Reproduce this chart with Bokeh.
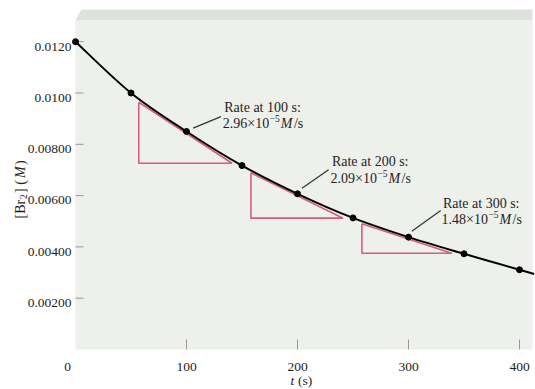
import math
import numpy as np
from bokeh.plotting import figure
from bokeh.models import Label, Range1d
from bokeh.embed import file_html
from bokeh.resources import INLINE

# ---------------- data ----------------
time_s = [0, 50, 100, 150, 200, 250, 300, 350, 400]
br2_M = [0.0120, 0.0100, 0.00850, 0.00717, 0.00607, 0.00513, 0.00438, 0.00373, 0.00311]

rate_times = [100, 200, 300]
rate_values = ["2.96", "2.09", "1.48"]

tri_left = [57, 158, 258]
tri_right = [141, 241, 339]
tri_top = [0.00964, 0.00689, 0.00490]
tri_bottom = [0.00726, 0.00512, 0.00375]

note_x = [134, 231, 331]
note_y = [0.00945, 0.00731, 0.00570]

lead_x0 = [106, 204, 303]
lead_y0 = [0.00863, 0.00629, 0.00461]
lead_x1 = [131, 228, 329]
lead_y1 = [0.00908, 0.00701, 0.00542]

x_ticks = [0, 100, 200, 300, 400]
x_tick_labels = ["0", "100", "200", "300", "400"]
y_ticks = [0.002, 0.004, 0.006, 0.008, 0.010, 0.012]
y_tick_labels = ["0.00200", "0.00400", "0.00600", "0.00800", "0.0100", "0.0120"]

# ---------------- layout (pixels) ----------------
W, H = 535, 389
X0_PX, Y0_PX = 75, 349          # where t = 0 and [Br2] = 0 fall
PX_PER_S = 1.11
PX_PER_M = 25650.0
PANEL_RIGHT_PX, PANEL_TOP_PX, BAND_TOP_PX = 532, 20, 9

X_START = -X0_PX / PX_PER_S
X_END = (W - X0_PX) / PX_PER_S
Y_START = (Y0_PX - H) / PX_PER_M
Y_END = Y0_PX / PX_PER_M
PANEL_RIGHT = (PANEL_RIGHT_PX - X0_PX) / PX_PER_S
Y_BAND = (Y0_PX - PANEL_TOP_PX) / PX_PER_M
Y_BAND_TOP = (Y0_PX - BAND_TOP_PX) / PX_PER_M
SLANT = 6 / PX_PER_S

PANEL = "#eef0eb"
BAND = "#dde3dc"
TEXT = "#1e1e1e"
PINK = "#d45f7c"
TICK = "#9a9a9a"
FONT = "Liberation Serif"

p = figure(width=W, height=H, x_range=Range1d(X_START, X_END), y_range=Range1d(Y_START, Y_END),
           output_backend="svg", toolbar_location=None,
           x_axis_location=None, y_axis_location=None,
           min_border=0, min_border_left=0, min_border_right=0,
           min_border_top=0, min_border_bottom=0,
           background_fill_color="white", border_fill_color="white")
p.outline_line_color = None
p.grid.visible = False

# panel and top "3D" band
p.quad(left=0, right=PANEL_RIGHT, bottom=0, top=Y_BAND, fill_color=PANEL, line_color=None)
p.patch([0, SLANT, PANEL_RIGHT, PANEL_RIGHT], [Y_BAND, Y_BAND_TOP, Y_BAND_TOP, Y_BAND],
        fill_color=BAND, line_color=None)

# ticks (drawn inward)
p.segment(x0=[0] * len(y_ticks), y0=y_ticks, x1=[8 / PX_PER_S] * len(y_ticks), y1=y_ticks,
          line_color=TICK, line_width=1)
p.segment(x0=x_ticks[1:], y0=[0] * (len(x_ticks) - 1), x1=x_ticks[1:],
          y1=[10 / PX_PER_M] * (len(x_ticks) - 1), line_color=TICK, line_width=1)

# tangent triangles
for l, r, t, b in zip(tri_left, tri_right, tri_top, tri_bottom):
    p.line([l, l, r, l], [t, b, b, t], line_color=PINK, line_width=1.6)

# smooth curve (Catmull-Rom -> cubic Bezier through the data points)
xs = np.array(time_s, dtype=float)
ys = np.array(br2_M, dtype=float)
n = len(xs)
x0s, y0s, x1s, y1s, cx0, cy0, cx1, cy1 = [], [], [], [], [], [], [], []
for i in range(n - 1):
    im1 = max(i - 1, 0)
    ip2 = min(i + 2, n - 1)
    x0s.append(xs[i]); y0s.append(ys[i]); x1s.append(xs[i + 1]); y1s.append(ys[i + 1])
    cx0.append(xs[i] + (xs[i + 1] - xs[im1]) / 6); cy0.append(ys[i] + (ys[i + 1] - ys[im1]) / 6)
    cx1.append(xs[i + 1] - (xs[ip2] - xs[i]) / 6); cy1.append(ys[i + 1] - (ys[ip2] - ys[i]) / 6)
p.bezier(x0=x0s, y0=y0s, x1=x1s, y1=y1s, cx0=cx0, cy0=cy0, cx1=cx1, cy1=cy1,
         line_color="black", line_width=2)
slope_end = (ys[-1] - ys[-2]) / (xs[-1] - xs[-2])
x_tail = PANEL_RIGHT + 1.5
p.line([xs[-1], x_tail], [ys[-1], ys[-1] + slope_end * (x_tail - xs[-1])],
       line_color="black", line_width=2)
p.scatter(time_s, br2_M, size=6, color="black")

# leader lines
p.segment(x0=lead_x0, y0=lead_y0, x1=lead_x1, y1=lead_y1, line_color="#333333", line_width=1.2)


def add_text(x, y, text, size=14, style="normal", dx=0, dy=0, angle=0, align="left",
             baseline="alphabetic"):
    p.add_layout(Label(x=x, y=y, text=text, x_offset=dx, y_offset=dy, angle=angle,
                       text_align=align, text_baseline=baseline, text_font=FONT,
                       text_font_size=f"{size}px", text_font_style=style, text_color=TEXT))


# tick labels
for t, lab in zip(y_ticks, y_tick_labels):
    add_text(0, t, lab, size=13.5, dx=-4, dy=-4.8, align="right")
for t, lab in zip(x_ticks, x_tick_labels):
    add_text(t, 0, lab, size=13.5, dx=(-8 if t == 0 else 0), dy=-17.3, align="center")

# rate annotations
for t, rv, nx, ny in zip(rate_times, rate_values, note_x, note_y):
    add_text(nx, ny, f"Rate at {t} s:")
    add_text(nx, ny, f"{rv}\u00d710", dx=45, dy=-16.7, align="right")
    add_text(nx, ny, "\u22125", size=9.5, dx=45.5, dy=-16.7 + 5.5)
    add_text(nx, ny, "M", style="italic", dx=56.5, dy=-16.7)
    add_text(nx, ny, "/s", dx=79, dy=-16.7, align="right")

# x axis title: t (s)
add_text(0, 0, "t", size=13.5, style="italic", dx=290 - X0_PX, dy=-(380 - Y0_PX))
add_text(0, 0, "(s)", size=13.5, dx=290 - X0_PX + 7.5, dy=-(380 - Y0_PX))

# y axis title: [Br2] (M), rotated
ybase = (Y0_PX - 218) / PX_PER_M
dxr = 20 - X0_PX
rot = math.pi / 2
add_text(0, ybase, "[Br", size=14, dx=dxr, angle=rot)
add_text(0, ybase, "2", size=9.5, dx=dxr + 3, dy=19.5, angle=rot)
add_text(0, ybase, "] (", size=14, dx=dxr, dy=25.5, angle=rot)
add_text(0, ybase, "M", size=14, style="italic", dx=dxr, dy=40.5, angle=rot)
add_text(0, ybase, ")", size=14, dx=dxr, dy=53.5, angle=rot)

open("out.html", "w").write(file_html(p, INLINE))
